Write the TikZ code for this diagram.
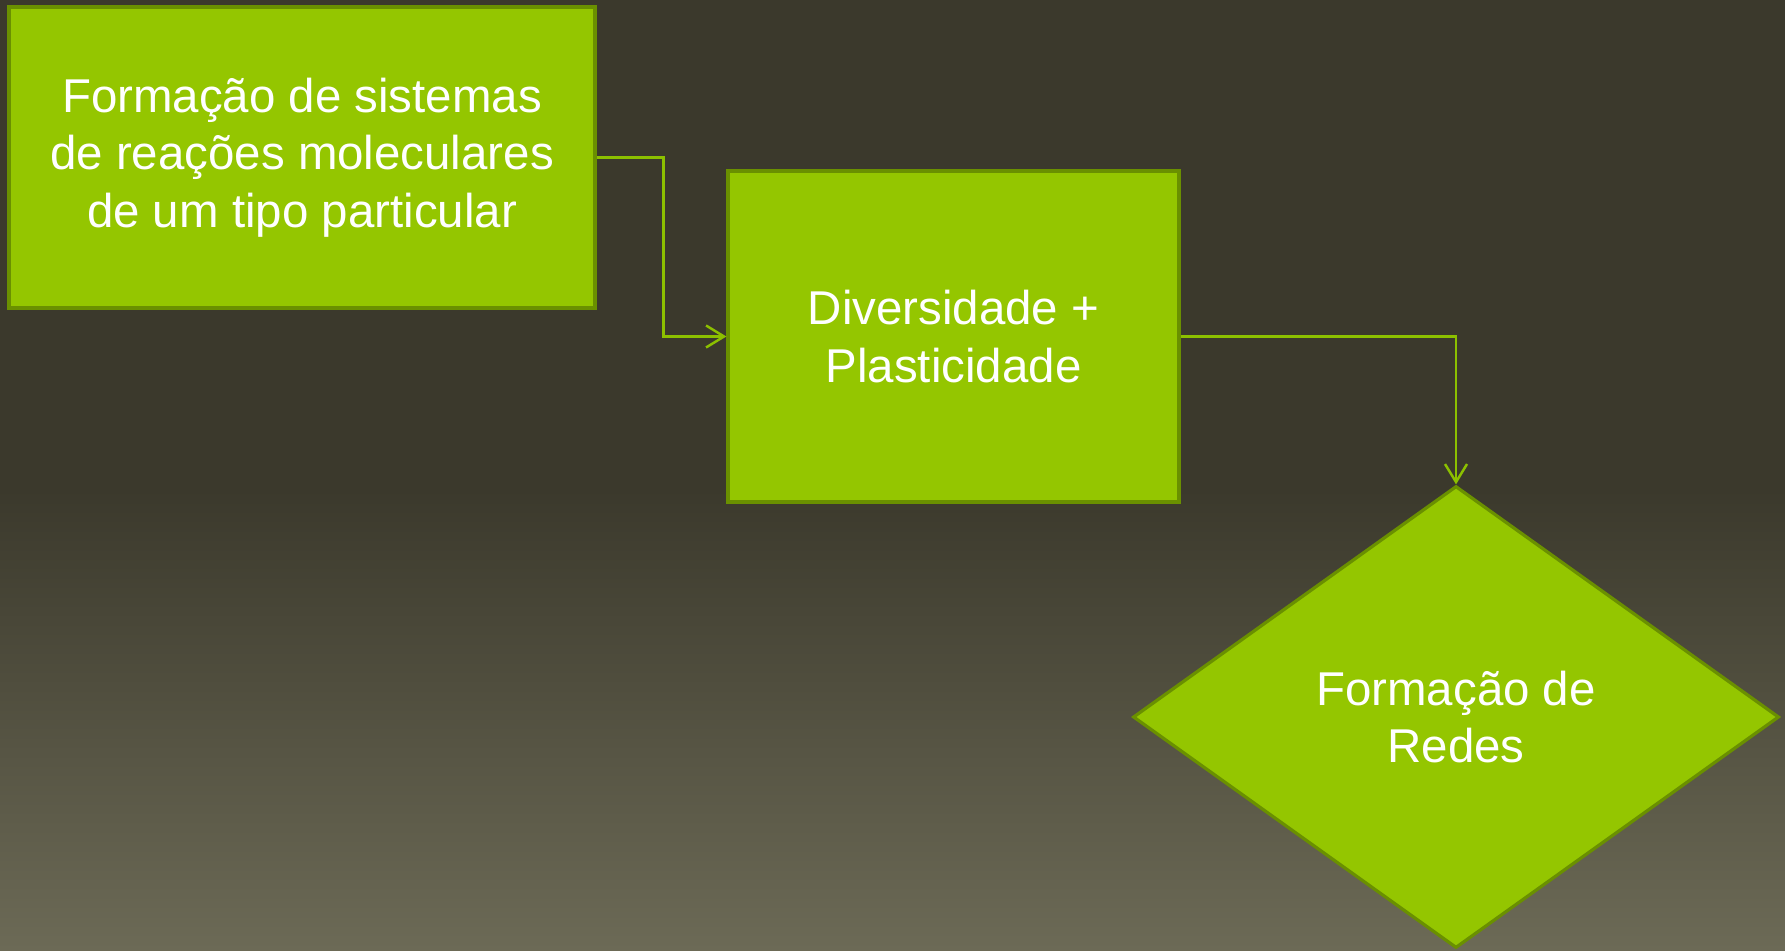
\documentclass[tikz,border=0pt]{standalone}
\usepackage{fontspec}
\setmainfont{Liberation Sans}
\usetikzlibrary{shapes.geometric}
\usetikzlibrary{arrows.meta}
\definecolor{bgtop}{HTML}{3B392C}
\definecolor{bgbottom}{HTML}{6C6A56}
\definecolor{leaf}{HTML}{94C600}
\definecolor{leafdark}{HTML}{6A9000}
\definecolor{arrowgreen}{HTML}{8CC000}

\begin{document}
\begin{tikzpicture}
    \tikzstyle{block} = [draw=leafdark, line width=0.9pt, fill=leaf, text=white, align=center, font=\fontsize{13.5}{16.4}\selectfont, inner sep=0pt]
    \tikzstyle{link} = [arrowgreen, line width=0.7pt, -{Straight Barb[length=1.8mm, width=2.2mm]}]
    \useasboundingbox (0, 0) rectangle (17.85, 9.5);
    \fill[bgtop] (0, 4.6) rectangle (17.85, 9.5);
    \shade[top color=bgtop, bottom color=bgbottom] (0, 0) rectangle (17.85, 4.61);
    \node[block, minimum width=5.86cm, minimum height=3.01cm] (sistemas) at (3.02, 7.925) {Formação de sistemas\\de reações moleculares\\de um tipo particular};
    \node[block, minimum width=4.51cm, minimum height=3.31cm] (diversidade) at (9.535, 6.135) {Diversidade +\\Plasticidade};
    \node[block, diamond, aspect=1.4, minimum width=6.46cm, minimum height=4.62cm] (redes) at (14.56, 2.33) {Formação de\\Redes};
    \draw[link] (sistemas.east) -- ++(0.67, 0) |- (diversidade.west);
    \draw[link] (diversidade.east) -| (redes.north);
\end{tikzpicture}
\end{document}
